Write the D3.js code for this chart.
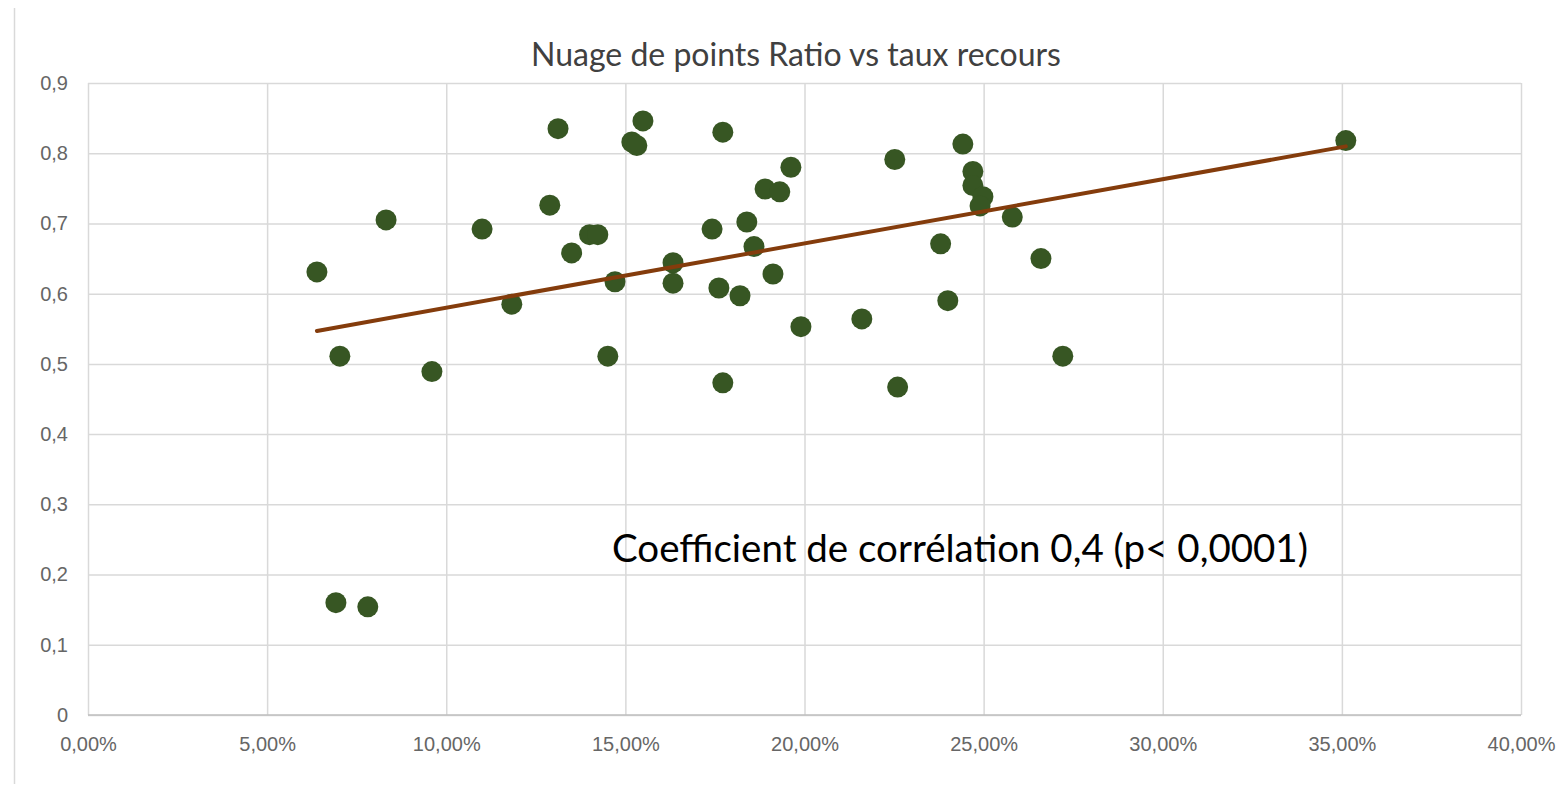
<!DOCTYPE html>
<html>
<head>
<meta charset="utf-8">
<script src="https://cdn.jsdelivr.net/npm/d3@7"></script>
<style>
  html, body { margin: 0; padding: 0; background: #fff; }
  svg { display: block; }
</style>
</head>
<body>
<div id="chart"></div>
<script>
// Données : taux de recours (x) et ratio (y)
const tauxRecours = [
  0.1312, 0.1549, 0.1518, 0.1532, 0.1289, 0.0832, 0.1100, 0.1400, 0.1423,
  0.1350, 0.0639, 0.1633, 0.1471, 0.1633, 0.1183, 0.0703, 0.1451, 0.0960,
  0.1772, 0.2442, 0.2252, 0.1962, 0.1890, 0.1931, 0.2470, 0.2470, 0.2498,
  0.2490, 0.2580, 0.1742, 0.1839, 0.1859, 0.2380, 0.2660, 0.1912, 0.1761,
  0.1820, 0.2400, 0.1990, 0.2160, 0.2721, 0.1772, 0.2260, 0.3511, 0.0692,
  0.0781
];
const ratio = [
  0.835, 0.846, 0.816, 0.811, 0.726, 0.705, 0.692, 0.684, 0.684,
  0.658, 0.631, 0.644, 0.617, 0.615, 0.585, 0.511, 0.511, 0.489,
  0.830, 0.813, 0.791, 0.780, 0.749, 0.745, 0.774, 0.754, 0.738,
  0.725, 0.709, 0.692, 0.702, 0.667, 0.671, 0.650, 0.628, 0.608,
  0.597, 0.590, 0.553, 0.564, 0.511, 0.473, 0.467, 0.818, 0.160,
  0.154
];
const xTicks = [0, 0.05, 0.10, 0.15, 0.20, 0.25, 0.30, 0.35, 0.40];
const yTicks = [0, 0.1, 0.2, 0.3, 0.4, 0.5, 0.6, 0.7, 0.8, 0.9];
const titre = "Nuage de points Ratio vs taux recours";
const note = "Coefficient de corrélation 0,4 (p< 0,0001)";

const W = 1557, H = 788;
const margin = { top: 83, right: 36, bottom: 73, left: 88 };
const width = W - margin.left - margin.right;
const height = H - margin.top - margin.bottom;

const svg = d3.select("#chart").append("svg")
  .attr("width", W)
  .attr("height", H)
  .style("font-family", "Lato, 'Open Sans', sans-serif");

// bord gauche du cadre
svg.append("line")
  .attr("x1", 14.5).attr("x2", 14.5)
  .attr("y1", 8).attr("y2", 784)
  .attr("stroke", "#d9d9d9").attr("stroke-width", 1.5);

const g = svg.append("g")
  .attr("transform", `translate(${margin.left},${margin.top})`);

const x = d3.scaleLinear().domain([0, 0.4]).range([0, width]);
const y = d3.scaleLinear().domain([0, 0.9]).range([height, 0]);

const fmtPct = v => d3.format(".2f")(v * 100).replace(".", ",") + "%";
const fmtY = v => v === 0 ? "0" : d3.format(".1f")(v).replace(".", ",");

// grille horizontale + étiquettes Y
g.append("g")
  .call(d3.axisLeft(y).tickValues(yTicks).tickSize(-width).tickFormat(fmtY).tickPadding(20))
  .call(a => a.select(".domain").remove())
  .call(a => a.selectAll(".tick line").attr("stroke", "#d9d9d9").attr("stroke-width", 1.5))
  .call(a => a.selectAll(".tick text").attr("fill", "#666").style("font-size", "20px"));

// grille verticale + étiquettes X
g.append("g")
  .attr("transform", `translate(0,${height})`)
  .call(d3.axisBottom(x).tickValues(xTicks).tickSize(-height).tickFormat(fmtPct).tickPadding(22))
  .call(a => a.select(".domain").remove())
  .call(a => a.selectAll(".tick line").attr("stroke", "#d9d9d9").attr("stroke-width", 1.5))
  .call(a => a.selectAll(".tick text").attr("fill", "#666").style("font-size", "20px"));

// axe horizontal du bas
g.append("line")
  .attr("x1", 0).attr("x2", width)
  .attr("y1", y(0)).attr("y2", y(0))
  .attr("stroke", "#bfbfbf").attr("stroke-width", 1.5);

// droite de tendance (moindres carrés)
const pts = tauxRecours.map((t, i) => ({ t, r: ratio[i] }));
const mx = d3.mean(pts, d => d.t), my = d3.mean(pts, d => d.r);
const slope = d3.sum(pts, d => (d.t - mx) * (d.r - my)) / d3.sum(pts, d => (d.t - mx) ** 2);
const inter = my - slope * mx;
const [tMin, tMax] = d3.extent(tauxRecours);

// points
g.selectAll(".pt")
  .data(pts)
  .enter().append("circle")
  .attr("class", "pt")
  .attr("cx", d => x(d.t))
  .attr("cy", d => y(d.r))
  .attr("r", 10.5)
  .attr("fill", "#375623");

g.append("line")
  .attr("x1", x(tMin)).attr("y1", y(inter + slope * tMin))
  .attr("x2", x(tMax)).attr("y2", y(inter + slope * tMax))
  .attr("stroke", "#843c0c")
  .attr("stroke-width", 4)
  .attr("stroke-linecap", "round");

// titre
svg.append("text")
  .attr("x", 796).attr("y", 66)
  .attr("text-anchor", "middle")
  .attr("fill", "#404040")
  .style("font-size", "32px")
  .text(titre);

// annotation
svg.append("text")
  .attr("x", 612).attr("y", 562)
  .attr("fill", "#000")
  .style("font-size", "38.5px")
  .text(note);
</script>
</body>
</html>
